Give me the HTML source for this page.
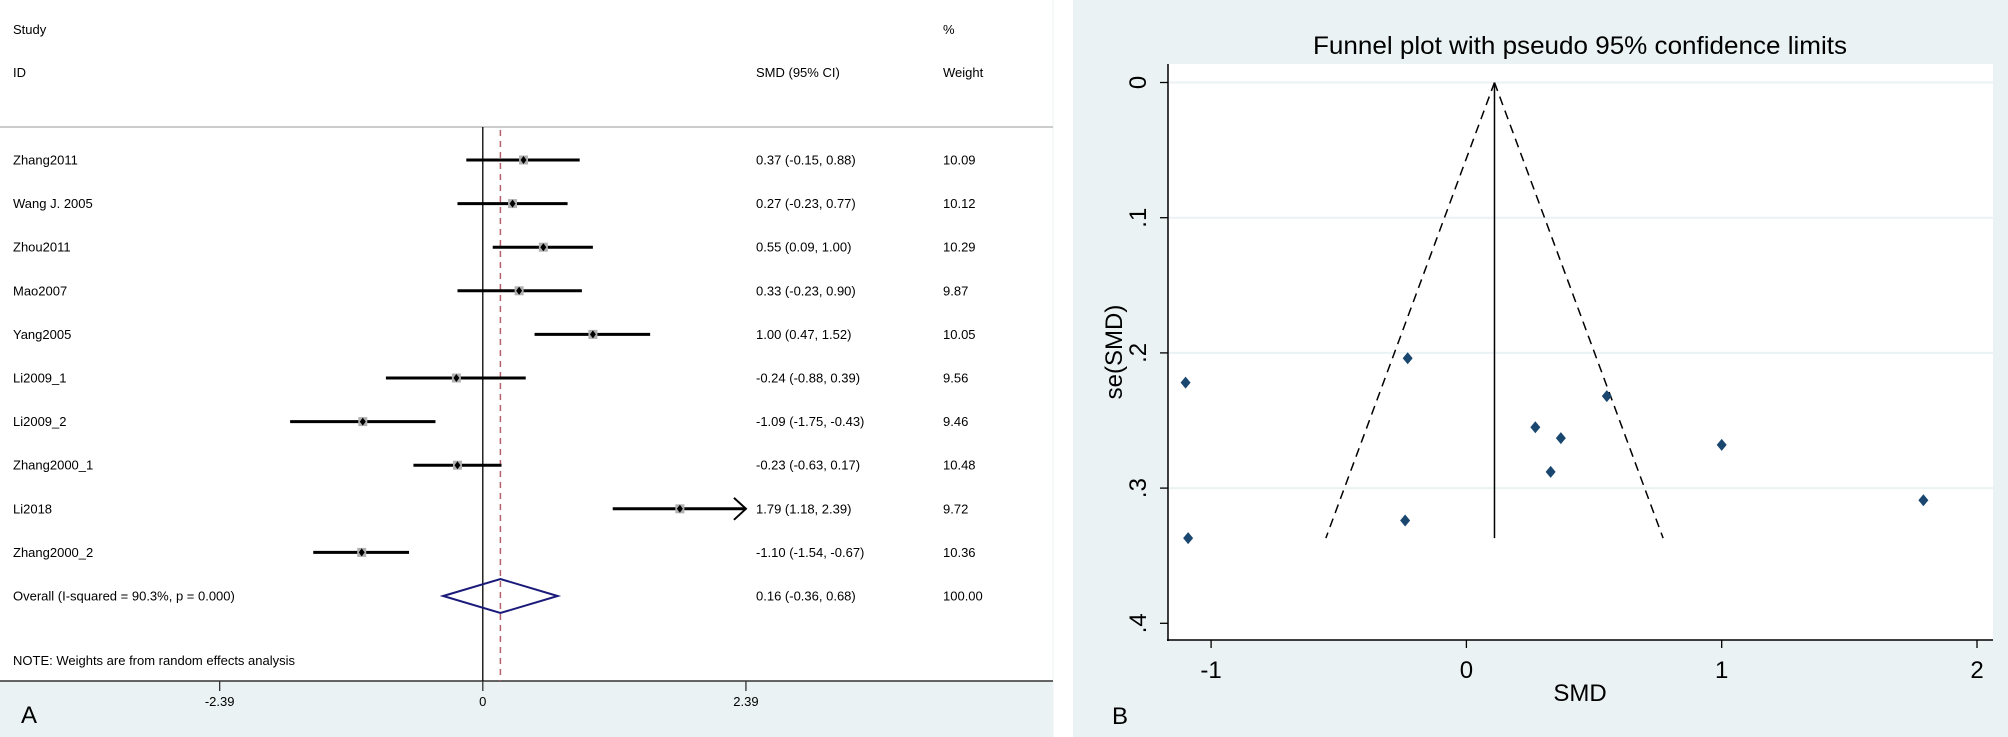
<!DOCTYPE html>
<html><head><meta charset="utf-8"><style>
html,body{margin:0;padding:0;background:#fff;}
svg{display:block;font-family:"Liberation Sans",Arial,sans-serif;}
</style></head><body>
<svg id="fig" width="2008" height="737" viewBox="0 0 2008 737" xmlns="http://www.w3.org/2000/svg">
  <rect x="0" y="0" width="2008" height="737" fill="#ffffff"/>
  <g id="forest">
    <rect x="0" y="681" width="1053" height="56" fill="#eaf2f3"/>
    <line x1="1053" y1="0" x2="1053" y2="737" stroke="#eef3f4" stroke-width="1"/>
    <text x="13" y="34" font-size="13">Study</text>
    <text x="13" y="77" font-size="13">ID</text>
    <text x="756" y="77" font-size="13">SMD (95% CI)</text>
    <text x="943" y="34" font-size="13">%</text>
    <text x="943" y="77" font-size="13">Weight</text>
    <line x1="0" y1="127" x2="1053" y2="127" stroke="#bbbbbb" stroke-width="1.5"/>
    <line x1="0" y1="681" x2="1053" y2="681" stroke="#333" stroke-width="1.5"/>
    <text x="21" y="723" font-size="24">A</text>
    <text x="13" y="665" font-size="13">NOTE: Weights are from random effects analysis</text>
  </g>
  <g id="funnel">
    <rect x="1073" y="0" width="935" height="737" fill="#eaf2f3"/>
    <rect x="1168" y="64" width="825" height="576" fill="#ffffff"/>
    <text x="1580" y="54" font-size="25" text-anchor="middle" textLength="534" lengthAdjust="spacingAndGlyphs">Funnel plot with pseudo 95% confidence limits</text>
    <text x="1580" y="701" font-size="24" text-anchor="middle">SMD</text>
    <text x="0" y="0" font-size="24" text-anchor="middle" transform="translate(1122,352) rotate(-90)">se(SMD)</text>
    <text x="1112" y="724" font-size="24">B</text>
  </g>
</svg>
<script>
// ---- shared study data ----
const studies = ["Zhang2011","Wang J. 2005","Zhou2011","Mao2007","Yang2005","Li2009_1","Li2009_2","Zhang2000_1","Li2018","Zhang2000_2"];
const smd = [0.37,0.27,0.55,0.33,1.00,-0.24,-1.09,-0.23,1.79,-1.10];
const lower = [-0.15,-0.23,0.09,-0.23,0.47,-0.88,-1.75,-0.63,1.18,-1.54];
const upper = [0.88,0.77,1.00,0.90,1.52,0.39,-0.43,0.17,2.39,-0.67];
const weights = ["10.09","10.12","10.29","9.87","10.05","9.56","9.46","10.48","9.72","10.36"];
const overallSmd = 0.16;
const overallLower = -0.36;
const overallUpper = 0.68;
const overallWeight = "100.00";
const forestTicks = [-2.39, 0, 2.39];
const forestTickLabels = ["-2.39","0","2.39"];
// funnel data
const seValues = [0.263,0.255,0.232,0.288,0.268,0.324,0.337,0.204,0.309,0.222];
const pooledFixed = 0.11;
const seMax = 0.337;
const funnelXTicks = [-1,0,1,2];
const funnelXTickLabels = ["-1","0","1","2"];
const funnelYTicks = [0,0.1,0.2,0.3,0.4];
const funnelYTickLabels = ["0",".1",".2",".3",".4"];
const funnelGrid = [0,0.1,0.2,0.3];

const NS = "http://www.w3.org/2000/svg";
function mk(tag, attrs, parent, txt){
  const e = document.createElementNS(NS, tag);
  for (const k in attrs) e.setAttribute(k, attrs[k]);
  if (txt !== undefined) e.textContent = txt;
  parent.appendChild(e);
  return e;
}
function fmt(v){ return v.toFixed(2); }

// ---- forest plot ----
const forest = document.getElementById('forest');
const fx = v => 482.8 + v * 110.1;
const rowY = i => 160 + i * 43.6;

let e;
e = mk('line',{x1:fx(0),y1:127,x2:fx(0),y2:681,stroke:'#000','stroke-width':1.3},forest);


e = mk('line',{x1:fx(overallSmd),y1:130,x2:fx(overallSmd),y2:681,stroke:'#b5606a','stroke-width':1.5,'stroke-dasharray':'6,5'},forest);



for (let i = 0; i < forestTicks.length; i++) {
  const x = fx(forestTicks[i]);
  e = mk('line',{x1:x,y1:681,x2:x,y2:691,stroke:'#333','stroke-width':1.3},forest);
  
  
  e = mk('text',{x:x,y:706,'font-size':13,'text-anchor':'middle'},forest,forestTickLabels[i]);
  
  
}

const xMaxAxis = 2.39;
for (let i = 0; i < studies.length; i++) {
  const y = rowY(i);
  e = mk('text',{x:13,y:y+4.5,'font-size':13},forest,studies[i]);
  
  
  const lo = fx(lower[i]);
  const clipped = upper[i] >= xMaxAxis;
  const hi = fx(Math.min(upper[i], xMaxAxis));
  e = mk('line',{x1:lo,y1:y,x2:hi,y2:y,stroke:'#000','stroke-width':3},forest);
  
  
  if (clipped) {
    e = mk('polyline',{points:`${hi-12},${y-11} ${hi},${y} ${hi-12},${y+11}`,fill:'none',stroke:'#000','stroke-width':2},forest);
    
    
  }
  const cx = fx(smd[i]);
  e = mk('rect',{x:cx-4.5,y:y-4.5,width:9,height:9,fill:'#b0b0b0'},forest);
  
  
  e = mk('polygon',{points:`${cx},${y-4} ${cx+3},${y} ${cx},${y+4} ${cx-3},${y}`,fill:'#000'},forest);
  
  
  e = mk('text',{x:756,y:y+4.5,'font-size':13},forest,`${fmt(smd[i])} (${fmt(lower[i])}, ${fmt(upper[i])})`);
  
  
  e = mk('text',{x:943,y:y+4.5,'font-size':13},forest,weights[i]);
  
  
}
const oy = rowY(studies.length);
e = mk('text',{x:13,y:oy+4.5,'font-size':13},forest,'Overall  (I-squared = 90.3%, p = 0.000)');


e = mk('polygon',{points:`${fx(overallLower)},${oy} ${fx(overallSmd)},${oy-17} ${fx(overallUpper)},${oy} ${fx(overallSmd)},${oy+17}`,fill:'none',stroke:'#1a1a7a','stroke-width':2},forest);


e = mk('text',{x:756,y:oy+4.5,'font-size':13},forest,`${fmt(overallSmd)} (${fmt(overallLower)}, ${fmt(overallUpper)})`);


e = mk('text',{x:943,y:oy+4.5,'font-size':13},forest,overallWeight);



// ---- funnel plot ----
const funnel = document.getElementById('funnel');
const ux = v => 1466.4 + v * 255.3;
const uy = v => 82.5 + v * 1352;

for (const g of funnelGrid) {
  e = mk('line',{x1:1169,y1:uy(g),x2:1993,y2:uy(g),stroke:'#eaf2f3','stroke-width':2},funnel);
  
  
}
e = mk('line',{x1:1168,y1:64,x2:1168,y2:641,stroke:'#000','stroke-width':1.5},funnel);


e = mk('line',{x1:1167,y1:640,x2:1993,y2:640,stroke:'#000','stroke-width':1.5},funnel);


for (let i = 0; i < funnelYTicks.length; i++) {
  const y = uy(funnelYTicks[i]);
  e = mk('line',{x1:1160,y1:y,x2:1168,y2:y,stroke:'#000','stroke-width':1.3},funnel);
  
  
  e = mk('text',{x:0,y:0,'font-size':24,'text-anchor':'middle',transform:`translate(1146,${y}) rotate(-90)`},funnel,funnelYTickLabels[i]);
  
  
}
for (let i = 0; i < funnelXTicks.length; i++) {
  const x = ux(funnelXTicks[i]);
  e = mk('line',{x1:x,y1:640,x2:x,y2:648,stroke:'#000','stroke-width':1.3},funnel);
  
  
  e = mk('text',{x:x,y:678,'font-size':24,'text-anchor':'middle'},funnel,funnelXTickLabels[i]);
  
  
}
e = mk('line',{x1:ux(pooledFixed),y1:uy(0),x2:ux(pooledFixed),y2:uy(seMax),stroke:'#000','stroke-width':1.5},funnel);


e = mk('line',{x1:ux(pooledFixed),y1:uy(0),x2:ux(pooledFixed-1.96*seMax),y2:uy(seMax),stroke:'#000','stroke-width':1.5,'stroke-dasharray':'9,6'},funnel);


e = mk('line',{x1:ux(pooledFixed),y1:uy(0),x2:ux(pooledFixed+1.96*seMax),y2:uy(seMax),stroke:'#000','stroke-width':1.5,'stroke-dasharray':'9,6'},funnel);


for (let i = 0; i < smd.length; i++) {
  const x = ux(smd[i]), y = uy(seValues[i]);
  e = mk('polygon',{points:`${x},${y-6} ${x+5},${y} ${x},${y+6} ${x-5},${y}`,fill:'#1a476f'},funnel);
  
  
}
</script>
</body></html>
